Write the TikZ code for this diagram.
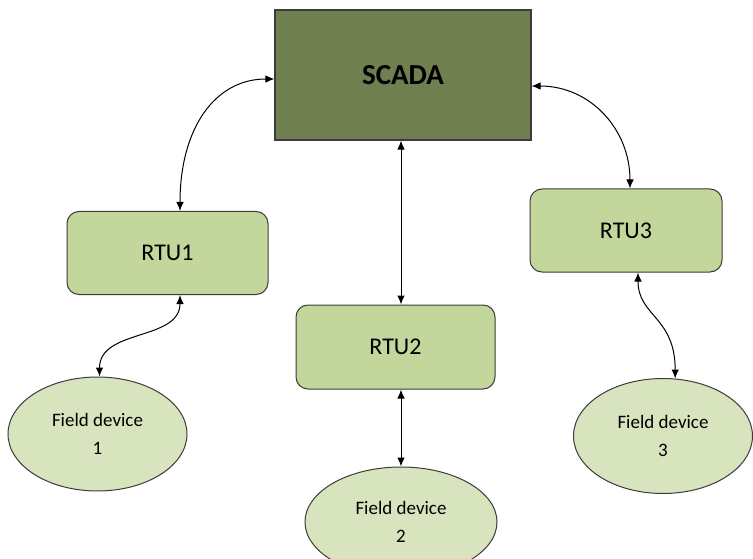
\documentclass[tikz,border=0pt]{standalone}
\usepackage{fontspec}
\setmainfont{Carlito}
\usetikzlibrary{shapes.geometric,arrows.meta}
\definecolor{scadafill}{HTML}{6F7F50}
\definecolor{rtufill}{HTML}{C3D69B}
\definecolor{devfill}{HTML}{D7E4BD}
\definecolor{edgegray}{HTML}{3C3C3C}
\tikzset{
  master/.style={rectangle, draw=edgegray, line width=1.1pt, fill=scadafill,
    minimum width=256pt, minimum height=130pt, inner sep=0pt,
    font=\fontsize{29}{34}\selectfont\bfseries},
  rtubox/.style={rectangle, rounded corners=12pt, draw=edgegray, line width=1pt,
    fill=rtufill, minimum height=83pt, inner sep=0pt,
    font=\fontsize{24}{28}\selectfont},
  device/.style={ellipse, draw=edgegray, line width=1pt, fill=devfill,
    inner sep=0pt, align=center, font=\fontsize{19}{28}\selectfont},
  link/.style={line width=1pt, {Latex[length=9pt,width=7.5pt]}-{Latex[length=9pt,width=7.5pt]}}
}
\begin{document}
\begin{tikzpicture}[x=1pt,y=-1pt]
\useasboundingbox[fill=white] (0,0) rectangle (753,559);

% control centre
\node[master] (scada) at (403,75) {SCADA};

% remote terminal units
\node[rtubox, minimum width=201pt] (rtu1) at (167.5,253) {RTU1};
\node[rtubox, minimum width=199pt, minimum height=84pt] (rtu2) at (395.5,347) {RTU2};
\node[rtubox, minimum width=192pt] (rtu3) at (626,230.5) {RTU3};

% field devices
\node[device, minimum width=179pt, minimum height=114pt] (fd1) at (97.5,434) {Field device\\1};
\node[device, minimum width=192pt, minimum height=110pt] (fd2) at (401,522) {Field device\\2};
\node[device, minimum width=179pt, minimum height=115pt] (fd3) at (663,436) {Field device\\3};

% SCADA <-> RTUs (y axis points down the page)
\draw[link] ([xshift=12.5pt]rtu1.north) .. controls +(0,-82) and +(-60,0) .. ([yshift=-4pt]scada.west);
\draw[link] ([yshift=-11pt]scada.east) .. controls +(59,0) and +(0,-59) .. ([xshift=4pt]rtu3.north);
\draw[link] ([xshift=-2pt]scada.south) -- ([xshift=5.5pt]rtu2.north);

% RTUs <-> field devices
\draw[link] ([xshift=12.5pt]rtu1.south) .. controls +(0,46) and +(0,-48) .. (fd1.88);
\draw[link] (rtu2.south -| fd2.north) -- (fd2.north);
\draw[link] ([xshift=12pt]rtu3.south) .. controls +(0,44) and +(0,-62) .. (fd3.78);
\end{tikzpicture}
\end{document}
